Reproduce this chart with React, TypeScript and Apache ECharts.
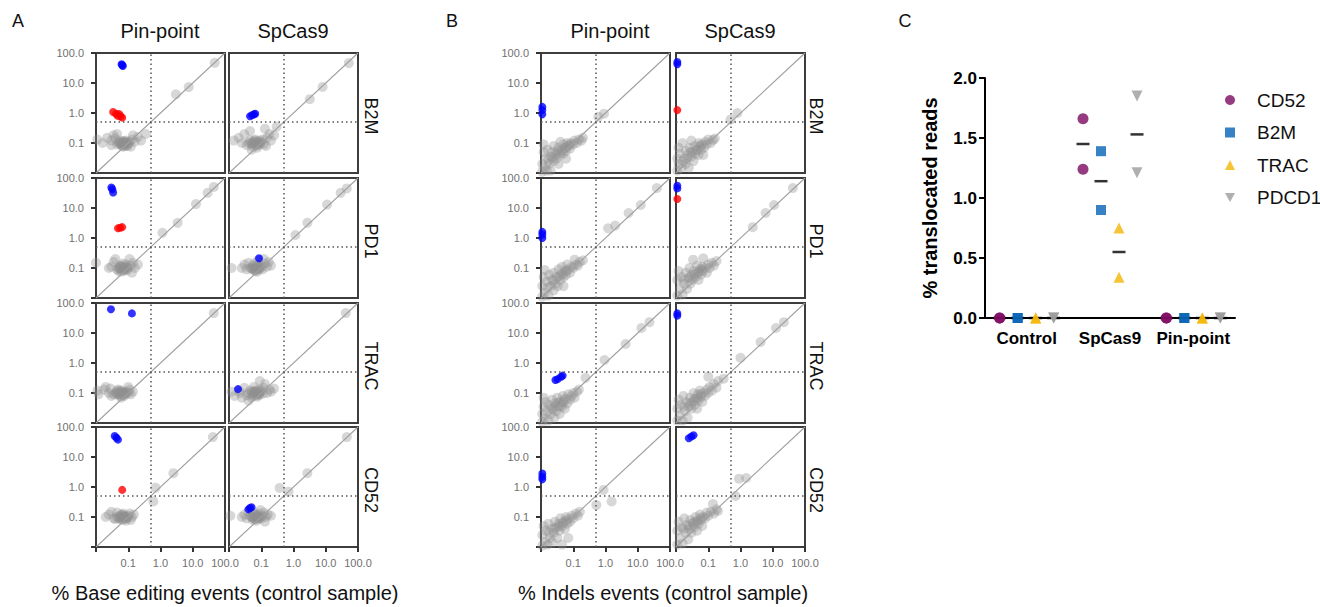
import React, { useEffect, useRef } from 'react';
import * as echarts from 'echarts';

// ---------- Labels ----------
const genes = ['B2M', 'PD1', 'TRAC', 'CD52'];
const editors = ['Pin-point', 'SpCas9'];
const panelLetters = ['A', 'B', 'C'];
const xTitles = ['% Base editing events (control sample)', '% Indels events (control sample)'];
const cCategories = ['Control', 'SpCas9', 'Pin-point'];
const cGenes = ['CD52', 'B2M', 'TRAC', 'PDCD1'];
const cYName = '% translocated reads';

// ---------- Panel A (base editing) ----------
const aB2mPinGray = [[0.05,0.1],[0.06,0.09],[0.07,0.11],[0.08,0.1],[0.065,0.08],[0.055,0.12],[0.075,0.085],[0.09,0.1],[0.1,0.09],[0.045,0.09],[0.085,0.12],[0.11,0.11],[0.07,0.075],[0.06,0.1],[0.095,0.08],[0.058,0.095],[0.068,0.105],[0.078,0.092],[0.088,0.108],[0.062,0.084],[0.072,0.116],[0.082,0.079],[0.052,0.106],[0.097,0.096],[0.011,0.13],[0.016,0.1],[0.022,0.15],[0.03,0.12],[0.035,0.18],[0.04,0.14],[0.045,0.2],[0.13,0.13],[0.16,0.11],[0.2,0.16],[0.25,0.12],[0.03,0.085],[0.14,0.18],[0.12,0.075],[0.35,0.2],[3.0,4.2],[7.5,7.3],[48,47]];
const aB2mPinBlue = [[0.062,42],[0.068,37],[0.065,40]];
const aB2mPinRed = [[0.034,1.08],[0.042,0.95],[0.047,0.8],[0.052,0.92],[0.058,0.78],[0.065,0.7]];
const aB2mSpGray = [[0.04,0.1],[0.05,0.09],[0.06,0.11],[0.07,0.1],[0.08,0.085],[0.09,0.12],[0.055,0.075],[0.065,0.13],[0.1,0.1],[0.11,0.13],[0.045,0.12],[0.075,0.07],[0.085,0.1],[0.035,0.085],[0.12,0.09],[0.056,0.098],[0.066,0.088],[0.076,0.112],[0.086,0.094],[0.061,0.12],[0.071,0.082],[0.048,0.104],[0.094,0.108],[0.014,0.12],[0.02,0.15],[0.025,0.1],[0.03,0.2],[0.045,0.25],[0.15,0.15],[0.18,0.2],[0.2,0.12],[0.13,0.3],[0.25,0.18],[0.3,0.35],[0.05,0.06],[0.14,0.08],[3.2,2.9],[8,7.4],[52,46]];
const aB2mSpBlue = [[0.045,0.78],[0.052,0.85],[0.06,0.9],[0.065,0.95]];
const aB2mSpRed: number[][] = [];
const aPd1PinGray = [[0.05,0.1],[0.06,0.09],[0.065,0.11],[0.07,0.1],[0.08,0.09],[0.055,0.12],[0.075,0.08],[0.09,0.11],[0.06,0.075],[0.085,0.13],[0.045,0.09],[0.1,0.1],[0.07,0.14],[0.05,0.08],[0.057,0.096],[0.067,0.086],[0.077,0.106],[0.087,0.096],[0.063,0.118],[0.073,0.092],[0.053,0.108],[0.093,0.085],[0.01,0.15],[0.03,0.11],[0.035,0.16],[0.04,0.2],[0.12,0.12],[0.14,0.15],[0.16,0.1],[0.2,0.13],[0.11,0.2],[0.025,0.1],[0.13,0.07],[1.15,1.5],[3.4,3.2],[12.6,13.5],[29,32],[45,50]];
const aPd1PinBlue = [[0.03,48],[0.032,42],[0.034,33]];
const aPd1PinRed = [[0.048,2.1],[0.056,2.2],[0.065,2.3]];
const aPd1SpGray = [[0.05,0.1],[0.06,0.09],[0.07,0.11],[0.08,0.1],[0.065,0.08],[0.055,0.12],[0.09,0.095],[0.1,0.12],[0.075,0.075],[0.045,0.1],[0.085,0.13],[0.06,0.14],[0.11,0.09],[0.058,0.104],[0.068,0.094],[0.078,0.088],[0.088,0.11],[0.062,0.083],[0.072,0.122],[0.052,0.092],[0.096,0.104],[0.012,0.1],[0.025,0.1],[0.03,0.13],[0.035,0.09],[0.04,0.15],[0.13,0.14],[0.15,0.11],[0.17,0.16],[0.12,0.2],[0.2,0.12],[0.08,0.18],[1.15,1.26],[2.7,3.2],[11,13],[29,32],[45,45]];
const aPd1SpBlue = [[0.085,0.21]];
const aPd1SpRed: number[][] = [];
const aTracPinGray = [[0.04,0.1],[0.05,0.09],[0.06,0.11],[0.07,0.1],[0.08,0.09],[0.055,0.08],[0.065,0.12],[0.045,0.12],[0.075,0.08],[0.09,0.11],[0.035,0.09],[0.1,0.1],[0.06,0.07],[0.05,0.13],[0.048,0.104],[0.058,0.096],[0.068,0.088],[0.078,0.108],[0.053,0.114],[0.063,0.082],[0.073,0.098],[0.085,0.1],[0.043,0.094],[0.011,0.12],[0.012,0.09],[0.018,0.13],[0.025,0.1],[0.028,0.14],[0.03,0.08],[0.11,0.13],[0.12,0.09],[0.14,0.11],[0.1,0.16],[0.02,0.16],[45,46]];
const aTracPinBlue = [[0.029,62],[0.13,45]];
const aTracPinRed: number[][] = [];
const aTracSpGray = [[0.04,0.1],[0.05,0.09],[0.06,0.11],[0.07,0.1],[0.08,0.09],[0.055,0.08],[0.065,0.12],[0.09,0.1],[0.1,0.12],[0.075,0.075],[0.045,0.12],[0.085,0.13],[0.05,0.07],[0.11,0.095],[0.035,0.085],[0.057,0.1],[0.067,0.092],[0.077,0.114],[0.087,0.086],[0.062,0.106],[0.072,0.084],[0.052,0.112],[0.095,0.11],[0.012,0.11],[0.015,0.08],[0.02,0.12],[0.025,0.07],[0.03,0.15],[0.04,0.055],[0.12,0.15],[0.15,0.1],[0.18,0.13],[0.2,0.11],[0.13,0.2],[0.09,0.25],[0.25,0.14],[0.06,0.16],[0.022,0.1],[42,46]];
const aTracSpBlue = [[0.019,0.135]];
const aTracSpRed: number[][] = [];
const aCd52PinGray = [[0.045,0.1],[0.05,0.09],[0.055,0.11],[0.06,0.1],[0.07,0.09],[0.065,0.08],[0.075,0.11],[0.08,0.1],[0.09,0.09],[0.1,0.11],[0.06,0.12],[0.085,0.075],[0.04,0.085],[0.07,0.13],[0.053,0.098],[0.063,0.09],[0.073,0.104],[0.083,0.088],[0.058,0.084],[0.068,0.116],[0.078,0.096],[0.095,0.1],[0.02,0.1],[0.025,0.12],[0.03,0.15],[0.035,0.09],[0.11,0.13],[0.13,0.1],[0.15,0.12],[0.12,0.08],[0.045,0.14],[0.6,0.33],[0.7,0.95],[2.5,2.9],[42,46]];
const aCd52PinBlue = [[0.038,50],[0.043,44],[0.048,38]];
const aCd52PinRed = [[0.065,0.8]];
const aCd52SpGray = [[0.05,0.1],[0.06,0.09],[0.07,0.11],[0.075,0.1],[0.08,0.085],[0.065,0.12],[0.09,0.1],[0.1,0.09],[0.055,0.08],[0.085,0.13],[0.07,0.075],[0.045,0.11],[0.11,0.11],[0.06,0.14],[0.058,0.104],[0.068,0.094],[0.078,0.108],[0.088,0.092],[0.063,0.086],[0.073,0.118],[0.083,0.1],[0.053,0.096],[0.011,0.11],[0.025,0.1],[0.03,0.12],[0.035,0.09],[0.04,0.15],[0.12,0.14],[0.14,0.1],[0.16,0.12],[0.13,0.07],[0.2,0.11],[0.095,0.17],[0.37,0.93],[0.7,0.7],[2.7,2.9],[45,46]];
const aCd52SpBlue = [[0.04,0.18],[0.045,0.2],[0.05,0.21]];
const aCd52SpRed: number[][] = [];

// ---------- Panel B (indels) ----------
const bB2mPinGray = [[0.011,0.011],[0.011,0.02],[0.012,0.05],[0.012,0.09],[0.013,0.015],[0.014,0.03],[0.015,0.012],[0.016,0.06],[0.018,0.02],[0.02,0.035],[0.02,0.012],[0.022,0.05],[0.025,0.025],[0.025,0.08],[0.028,0.04],[0.03,0.03],[0.032,0.055],[0.035,0.02],[0.035,0.07],[0.04,0.04],[0.045,0.06],[0.05,0.045],[0.05,0.09],[0.055,0.07],[0.06,0.055],[0.065,0.1],[0.07,0.08],[0.08,0.065],[0.085,0.1],[0.1,0.09],[0.11,0.12],[0.13,0.1],[0.15,0.13],[0.18,0.12],[0.2,0.15],[0.04,0.11],[0.06,0.03],[0.017,0.028],[0.023,0.033],[0.033,0.045],[0.043,0.052],[0.058,0.068],[0.075,0.085],[0.6,0.75],[0.9,0.95]];
const bB2mPinBlue = [[0.011,1.6],[0.011,1.25],[0.011,0.9]];
const bB2mPinRed: number[][] = [];
const bB2mSpGray = [[0.011,0.012],[0.011,0.03],[0.012,0.07],[0.012,0.02],[0.013,0.045],[0.015,0.015],[0.016,0.1],[0.018,0.03],[0.02,0.055],[0.02,0.02],[0.023,0.04],[0.025,0.015],[0.027,0.07],[0.03,0.035],[0.032,0.05],[0.035,0.025],[0.038,0.08],[0.04,0.045],[0.045,0.06],[0.05,0.04],[0.05,0.1],[0.055,0.075],[0.06,0.06],[0.065,0.09],[0.075,0.07],[0.08,0.11],[0.09,0.09],[0.1,0.13],[0.12,0.1],[0.14,0.126],[0.16,0.14],[0.03,0.12],[0.07,0.04],[0.016,0.025],[0.022,0.03],[0.028,0.05],[0.042,0.058],[0.057,0.082],[0.49,0.6],[0.8,1.0]];
const bB2mSpBlue = [[0.011,50],[0.011,42]];
const bB2mSpRed = [[0.011,1.25]];
const bPd1PinGray = [[0.011,0.011],[0.011,0.025],[0.012,0.05],[0.013,0.086],[0.013,0.015],[0.015,0.035],[0.017,0.012],[0.018,0.06],[0.02,0.025],[0.022,0.04],[0.025,0.018],[0.025,0.07],[0.028,0.03],[0.03,0.05],[0.033,0.025],[0.035,0.09],[0.04,0.04],[0.042,0.06],[0.045,0.11],[0.05,0.05],[0.055,0.08],[0.06,0.06],[0.065,0.13],[0.07,0.09],[0.08,0.07],[0.09,0.11],[0.1,0.1],[0.11,0.19],[0.12,0.13],[0.14,0.12],[0.16,0.16],[0.2,0.18],[0.05,0.025],[0.016,0.022],[0.024,0.038],[0.036,0.052],[0.048,0.066],[0.062,0.08],[1.2,2.1],[2.0,2.6],[5.2,6.8],[12.4,12.6],[39,46]];
const bPd1PinBlue = [[0.011,1.6],[0.011,1.3],[0.011,1.0]];
const bPd1PinRed: number[][] = [];
const bPd1SpGray = [[0.011,0.012],[0.011,0.04],[0.012,0.08],[0.013,0.02],[0.015,0.05],[0.016,0.013],[0.018,0.03],[0.02,0.07],[0.022,0.02],[0.024,0.045],[0.026,0.1],[0.028,0.03],[0.03,0.06],[0.033,0.04],[0.036,0.08],[0.04,0.05],[0.045,0.12],[0.048,0.07],[0.05,0.04],[0.055,0.09],[0.06,0.06],[0.065,0.11],[0.07,0.08],[0.08,0.1],[0.09,0.07],[0.1,0.13],[0.11,0.1],[0.13,0.15],[0.15,0.12],[0.18,0.17],[0.034,0.19],[0.07,0.21],[0.017,0.04],[0.027,0.05],[0.038,0.062],[0.052,0.075],[0.064,0.09],[2.4,2.3],[6,6.8],[11,12.6],[42,46]];
const bPd1SpBlue = [[0.011,55],[0.011,45]];
const bPd1SpRed = [[0.011,20]];
const bTracPinGray = [[0.011,0.011],[0.011,0.02],[0.012,0.035],[0.013,0.014],[0.014,0.05],[0.015,0.025],[0.017,0.012],[0.018,0.04],[0.02,0.02],[0.022,0.06],[0.024,0.03],[0.026,0.015],[0.028,0.045],[0.03,0.025],[0.032,0.07],[0.035,0.035],[0.038,0.02],[0.04,0.05],[0.045,0.035],[0.048,0.08],[0.05,0.05],[0.055,0.03],[0.06,0.065],[0.065,0.045],[0.07,0.09],[0.08,0.06],[0.09,0.08],[0.1,0.1],[0.11,0.07],[0.13,0.11],[0.15,0.13],[0.012,0.07],[0.021,0.03],[0.027,0.036],[0.034,0.048],[0.042,0.04],[0.052,0.06],[0.24,0.32],[0.93,1.26],[4.2,4.3],[13,14.7],[23,23]];
const bTracPinBlue = [[0.028,0.27],[0.033,0.29],[0.042,0.35],[0.047,0.38]];
const bTracPinRed: number[][] = [];
const bTracSpGray = [[0.011,0.012],[0.011,0.03],[0.012,0.06],[0.013,0.018],[0.014,0.04],[0.016,0.012],[0.017,0.08],[0.019,0.025],[0.021,0.05],[0.023,0.015],[0.025,0.035],[0.027,0.07],[0.03,0.03],[0.032,0.05],[0.035,0.1],[0.038,0.04],[0.04,0.065],[0.045,0.03],[0.048,0.09],[0.05,0.055],[0.055,0.12],[0.06,0.075],[0.065,0.05],[0.07,0.1],[0.08,0.08],[0.09,0.13],[0.1,0.1],[0.11,0.16],[0.13,0.12],[0.15,0.2],[0.18,0.15],[0.2,0.25],[0.1,0.35],[0.3,0.3],[0.018,0.035],[0.026,0.045],[0.036,0.058],[0.046,0.066],[0.058,0.09],[1.0,1.5],[4.2,5],[12.6,14.7],[22,23]];
const bTracSpBlue = [[0.011,45],[0.011,38]];
const bTracSpRed: number[][] = [];
const bCd52PinGray = [[0.011,0.011],[0.011,0.025],[0.012,0.05],[0.013,0.015],[0.014,0.035],[0.016,0.012],[0.017,0.06],[0.019,0.02],[0.021,0.04],[0.023,0.014],[0.025,0.03],[0.027,0.07],[0.03,0.045],[0.032,0.02],[0.035,0.06],[0.038,0.035],[0.04,0.09],[0.045,0.05],[0.05,0.07],[0.055,0.04],[0.06,0.1],[0.065,0.06],[0.07,0.085],[0.08,0.07],[0.09,0.11],[0.1,0.09],[0.12,0.13],[0.14,0.11],[0.16,0.15],[0.07,0.02],[0.045,0.012],[0.018,0.03],[0.026,0.042],[0.036,0.05],[0.047,0.062],[0.06,0.075],[0.52,0.25],[0.87,0.8],[1.55,0.33]];
const bCd52PinBlue = [[0.011,2.8],[0.011,2.2],[0.011,1.8]];
const bCd52PinRed: number[][] = [];
const bCd52SpGray = [[0.011,0.012],[0.011,0.035],[0.012,0.07],[0.013,0.02],[0.015,0.045],[0.016,0.013],[0.018,0.09],[0.02,0.03],[0.022,0.055],[0.024,0.018],[0.026,0.04],[0.028,0.08],[0.03,0.03],[0.033,0.06],[0.036,0.045],[0.04,0.1],[0.042,0.07],[0.045,0.035],[0.05,0.06],[0.055,0.12],[0.06,0.08],[0.065,0.05],[0.07,0.1],[0.08,0.09],[0.09,0.14],[0.1,0.11],[0.12,0.15],[0.14,0.27],[0.15,0.13],[0.18,0.18],[0.2,0.16],[0.017,0.04],[0.025,0.05],[0.034,0.065],[0.046,0.075],[0.058,0.095],[0.7,0.5],[0.9,1.9],[1.5,2.0]];
const bCd52SpBlue = [[0.025,42],[0.03,48],[0.035,53]];
const bCd52SpRed: number[][] = [];

// ---------- Panel C (translocations), two replicates per condition ----------
const cCd52 = [[0, 0], [1.66, 1.24], [0, 0]];
const cB2m = [[0, 0], [1.39, 0.9], [0, 0]];
const cTrac = [[0, 0], [0.75, 0.34], [0, 0]];
const cPdcd1 = [[0, 0], [1.85, 1.21], [0, 0]];
const cCd52Mean = [0, 1.45, 0];
const cB2mMean = [0, 1.14, 0];
const cTracMean = [0, 0.55, 0];
const cPdcd1Mean = [0, 1.53, 0];

const diagLine = [[0.01, 0.01], [100, 100]];
const cutoff = 0.5;

// ---------- Tables built from the arrays ----------
const panelA = [
  [{ gray: aB2mPinGray, blue: aB2mPinBlue, red: aB2mPinRed }, { gray: aB2mSpGray, blue: aB2mSpBlue, red: aB2mSpRed }],
  [{ gray: aPd1PinGray, blue: aPd1PinBlue, red: aPd1PinRed }, { gray: aPd1SpGray, blue: aPd1SpBlue, red: aPd1SpRed }],
  [{ gray: aTracPinGray, blue: aTracPinBlue, red: aTracPinRed }, { gray: aTracSpGray, blue: aTracSpBlue, red: aTracSpRed }],
  [{ gray: aCd52PinGray, blue: aCd52PinBlue, red: aCd52PinRed }, { gray: aCd52SpGray, blue: aCd52SpBlue, red: aCd52SpRed }],
];
const panelB = [
  [{ gray: bB2mPinGray, blue: bB2mPinBlue, red: bB2mPinRed }, { gray: bB2mSpGray, blue: bB2mSpBlue, red: bB2mSpRed }],
  [{ gray: bPd1PinGray, blue: bPd1PinBlue, red: bPd1PinRed }, { gray: bPd1SpGray, blue: bPd1SpBlue, red: bPd1SpRed }],
  [{ gray: bTracPinGray, blue: bTracPinBlue, red: bTracPinRed }, { gray: bTracSpGray, blue: bTracSpBlue, red: bTracSpRed }],
  [{ gray: bCd52PinGray, blue: bCd52PinBlue, red: bCd52PinRed }, { gray: bCd52SpGray, blue: bCd52SpBlue, red: bCd52SpRed }],
];
const cValues = [cCd52, cB2m, cTrac, cPdcd1];
const cMeans = [cCd52Mean, cB2mMean, cTracMean, cPdcd1Mean];

// ---------- Layout / style ----------
const FONT = 'Liberation Sans, Arial, sans-serif';
const ROW_TOP = [53, 178, 303, 427];
const BOX_W = 129;
const BOX_H = 120;
const PANEL_SETS = [
  { data: panelA, cols: [96, 229], rowLabelX: 371, titleX: [160, 293], xTitleX: 225 },
  { data: panelB, cols: [541, 676], rowLabelX: 816, titleX: [610, 740], xTitleX: 663 },
];
const C_COLORS = ['#7d0a62', '#0563b5', '#f2b705', '#9b9b9b'];
const C_SYMBOLS = ['circle', 'rect', 'triangle', 'path://M0,0L10,0L5,9Z'];
const C_OFFSETS = [-27, -9, 9, 27];

const logFmt = (v: number) => (v < 0.05 ? '' : v.toFixed(1));

function buildOption() {
  const grid: any[] = [];
  const xAxis: any[] = [];
  const yAxis: any[] = [];
  const series: any[] = [];
  const graphic: any[] = [];
  let gi = 0;

  PANEL_SETS.forEach((set, si) => {
    set.data.forEach((row, r) => {
      row.forEach((cell, c) => {
        const isBottom = r === 3;
        const isLeft = c === 0;
        grid.push({
          left: set.cols[c], top: ROW_TOP[r], width: BOX_W, height: BOX_H,
          show: true, borderColor: '#3d3d3d', borderWidth: 2, backgroundColor: 'transparent',
          containLabel: false, outerBoundsMode: 'none',
        });
        xAxis.push({
          gridIndex: gi, type: 'log', logBase: 10, min: 0.01, max: 100,
          axisLine: { show: false }, splitLine: { show: false },
          axisTick: { show: isBottom, length: 5, lineStyle: { color: '#333', width: 2 } },
          axisLabel: { show: isBottom, formatter: logFmt, color: '#707070', fontSize: 11, fontFamily: FONT, margin: 10, showMinLabel: true, showMaxLabel: true },
        });
        yAxis.push({
          gridIndex: gi, type: 'log', logBase: 10, min: 0.01, max: 100,
          axisLine: { show: false }, splitLine: { show: false },
          axisTick: { show: isLeft, length: 5, lineStyle: { color: '#333', width: 2 } },
          axisLabel: { show: isLeft, formatter: logFmt, color: '#707070', fontSize: 11, fontFamily: FONT, margin: 12, showMinLabel: true, showMaxLabel: true },
        });
        series.push({
          type: 'scatter', name: `gray-${gi}`, xAxisIndex: gi, yAxisIndex: gi, data: cell.gray,
          symbolSize: 10, clip: false, z: 2,
          itemStyle: { color: 'rgba(145,145,145,0.45)' },
        });
        series.push({
          type: 'line', name: `diag-${gi}`, xAxisIndex: gi, yAxisIndex: gi, data: diagLine,
          showSymbol: false, symbol: 'none', z: 3,
          lineStyle: { color: '#a0a0a0', width: 1.1 },
          markLine: {
            silent: true, symbol: 'none', label: { show: false },
            lineStyle: { color: '#555', type: [1.5, 3], width: 1.5 },
            data: [{ xAxis: cutoff }, { yAxis: cutoff }],
          },
        });
        series.push({
          type: 'scatter', name: `red-${gi}`, xAxisIndex: gi, yAxisIndex: gi, data: cell.red,
          symbolSize: 8, clip: false, z: 4, itemStyle: { color: '#ff0000' },
        });
        series.push({
          type: 'scatter', name: `blue-${gi}`, xAxisIndex: gi, yAxisIndex: gi, data: cell.blue,
          symbolSize: 8, clip: false, z: 4, itemStyle: { color: '#0000ff' },
        });
        gi++;
      });
    });

    // column titles
    editors.forEach((ed, c) => {
      graphic.push({
        type: 'text', x: set.titleX[c], y: 31,
        style: { text: ed, fontSize: 20, fontFamily: FONT, fill: '#111', align: 'center', verticalAlign: 'middle' },
      });
    });
    // row labels
    genes.forEach((g, r) => {
      graphic.push({
        type: 'text', x: set.rowLabelX, y: ROW_TOP[r] + BOX_H / 2 + 3, rotation: -Math.PI / 2,
        style: { text: g, fontSize: 18, fontFamily: FONT, fill: '#111', align: 'center', verticalAlign: 'middle' },
      });
    });
    graphic.push({
      type: 'text', x: set.xTitleX, y: 593,
      style: { text: xTitles[si], fontSize: 20, fontFamily: FONT, fill: '#111', align: 'center', verticalAlign: 'middle' },
    });
  });

  // panel letters
  [18, 452, 905].forEach((x, i) => {
    graphic.push({
      type: 'text', x, y: 21,
      style: { text: panelLetters[i], fontSize: 18, fontFamily: FONT, fill: '#111', align: 'center', verticalAlign: 'middle' },
    });
  });

  // ---------- Panel C ----------
  const ci = gi;
  grid.push({ left: 985, top: 78, width: 250, height: 240, containLabel: false, outerBoundsMode: 'none' });
  xAxis.push({
    gridIndex: ci, type: 'category', data: cCategories,
    axisLine: { lineStyle: { color: '#000', width: 2 } },
    axisTick: { alignWithLabel: true, length: 6, lineStyle: { color: '#000', width: 2 } },
    axisLabel: { color: '#000', fontWeight: 'bold', fontSize: 17, fontFamily: FONT, margin: 12, interval: 0 },
  });
  yAxis.push({
    gridIndex: ci, type: 'value', min: 0, max: 2, interval: 0.5,
    name: cYName, nameLocation: 'middle', nameGap: 45,
    nameTextStyle: { color: '#000', fontWeight: 'bold', fontSize: 20, fontFamily: FONT },
    axisLine: { show: true, lineStyle: { color: '#000', width: 2 } },
    axisTick: { show: true, length: 6, lineStyle: { color: '#000', width: 2 } },
    axisLabel: { color: '#000', fontWeight: 'bold', fontSize: 17, fontFamily: FONT, margin: 8, formatter: (v: number) => v.toFixed(1) },
    splitLine: { show: false },
  });
  cGenes.forEach((g, k) => {
    const pts: any[] = [];
    cValues[k].forEach((reps, catIdx) => reps.forEach((v) => pts.push([catIdx, v])));
    series.push({
      type: 'scatter', name: `${g} mean`, xAxisIndex: ci, yAxisIndex: ci,
      data: cMeans[k].map((v, catIdx) => [catIdx, v]),
      symbol: 'rect', symbolSize: [13, 2.5], symbolOffset: [C_OFFSETS[k], 0], clip: false, z: 5,
      itemStyle: { color: '#000' },
    });
    series.push({
      type: 'scatter', name: g, xAxisIndex: ci, yAxisIndex: ci, data: pts,
      symbol: C_SYMBOLS[k], symbolSize: k === 1 ? 10 : 11, symbolOffset: [C_OFFSETS[k], 0], clip: false, z: 6,
      itemStyle: { color: C_COLORS[k] },
    });
  });

  return {
    animation: false,
    backgroundColor: '#ffffff',
    textStyle: { fontFamily: FONT },
    grid, xAxis, yAxis, series, graphic,
    legend: {
      data: cGenes, orient: 'vertical', left: 1220, top: 85,
      itemWidth: 10, itemHeight: 10, itemGap: 12.5, selectedMode: false,
      textStyle: { fontSize: 19, lineHeight: 20, color: '#111', fontFamily: FONT, padding: [0, 0, 0, 17] },
    },
  };
}

export default function App() {
  const ref = useRef<HTMLDivElement>(null);
  useEffect(() => {
    if (!ref.current) return;
    const chart = echarts.init(ref.current, null, { renderer: 'svg' });
    chart.setOption(buildOption() as any);
    return () => chart.dispose();
  }, []);
  return <div ref={ref} style={{ position: 'absolute', left: 0, top: 0, width: 1320, height: 607, background: '#fff' }} />;
}
